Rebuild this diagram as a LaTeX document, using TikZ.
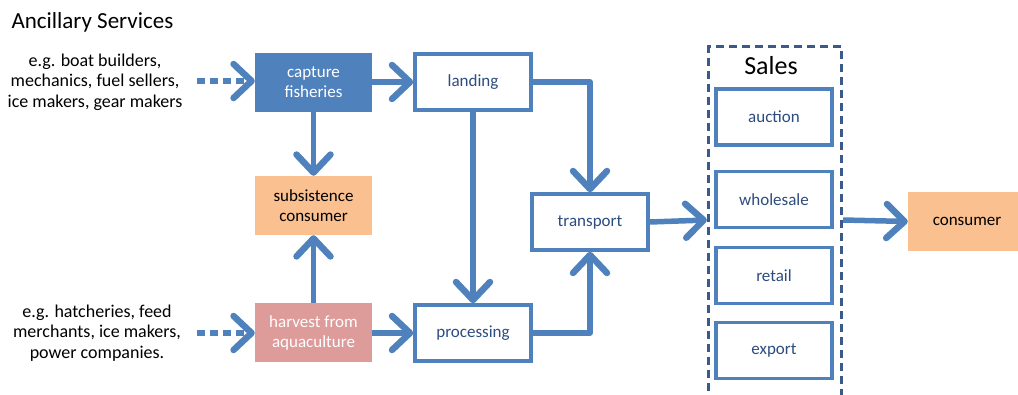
\documentclass[tikz,border=0pt]{standalone}
\usepackage{fontspec}
\setmainfont{Carlito}
\usetikzlibrary{arrows.meta}
\definecolor{mblue}{HTML}{4F81BD}
\definecolor{dblue}{HTML}{2C4C7F}
\definecolor{sblue}{HTML}{3A5A8C}
\definecolor{orng}{HTML}{FAC090}
\definecolor{pnk}{HTML}{DD9B9A}
\tikzset{
  boxbase/.style={rectangle, minimum width=117pt, minimum height=59pt, inner sep=2pt, align=center,
    font=\fontsize{17}{20}\selectfont},
  filledbox/.style={boxbase, fill=#1, draw=none},
  outlinebox/.style={boxbase, draw=mblue, line width=3.5pt, fill=white, text=dblue,
    minimum width=116pt, minimum height=56pt},
  flow/.style={draw=mblue, line width=5.5pt, line join=round,
    -{Straight Barb[length=18pt, width=34pt, line width=6.5pt, round]}},
  sidetext/.style={align=center, font=\fontsize{18}{20.5}\selectfont},
}
\begin{document}
\begin{tikzpicture}[x=1pt,y=-1pt]
\useasboundingbox (0,0) rectangle (1018,394);
\begin{scope}
\clip (0,0) rectangle (1018,394);
% title
\node[anchor=west, font=\fontsize{23}{25}\selectfont] (title) at (8,22) {Ancillary Services};
% side texts
\node[sidetext] (anc1) at (95,82) {e.g. boat builders,\\mechanics, fuel sellers,\\ice makers, gear makers};
\node[sidetext] (anc2) at (97,333) {e.g. hatcheries, feed\\merchants, ice makers,\\power companies.};
% boxes
\node[filledbox=mblue, text=white] (capture) at (313.5,82.5) {capture\\fisheries};
\node[filledbox=orng, text=black] (subs) at (313.5,205.5) {subsistence\\consumer};
\node[filledbox=pnk, text=white] (harvest) at (313.5,332.5) {harvest from\\aquaculture};
\node[outlinebox] (landing) at (473,82) {landing};
\node[outlinebox] (processing) at (473,333) {processing};
\node[outlinebox] (transport) at (590,222) {transport};
% sales group
\node[draw=sblue, line width=3.2pt, dash pattern=on 8pt off 5pt, minimum width=133pt, minimum height=360pt, anchor=north] (sales) at (775,45) {};
\node[font=\fontsize{26}{28}\selectfont] (salestitle) at (771,66) {Sales};
\node[outlinebox] (auction) at (774,117) {auction};
\node[outlinebox] (wholesale) at (774,199.5) {wholesale};
\node[outlinebox] (retail) at (774,275.5) {retail};
\node[outlinebox] (export) at (774,350.5) {export};
\node[filledbox=orng, text=black, minimum width=118pt] (consumer) at (967,221.5) {consumer};
% connectors
\coordinate (d1) at (197,81);
\coordinate (d2) at (197,333);
\draw[flow, dash pattern=on 8pt off 5pt] (d1) -- (capture.west |- d1);
\draw[flow, dash pattern=on 8pt off 5pt] (d2) -- (harvest.west |- d2);
\draw[flow] (capture.east |- landing.west) -- (landing.west);
\draw[flow] (harvest.east |- processing.west) -- (processing.west);
\draw[flow] (capture.south) -- (subs.north);
\draw[flow] (harvest.north) -- (subs.south);
\draw[flow] (landing.south) -- (processing.north);
\draw[flow] (landing.east) -| (transport.north);
\draw[flow] (processing.east) -| (transport.south);
\draw[flow] (transport.east) -- (sales.west |- 0,220);
\draw[flow] (sales.east |- 0,220) -- (consumer.west);
\end{scope}
\end{tikzpicture}
\end{document}
